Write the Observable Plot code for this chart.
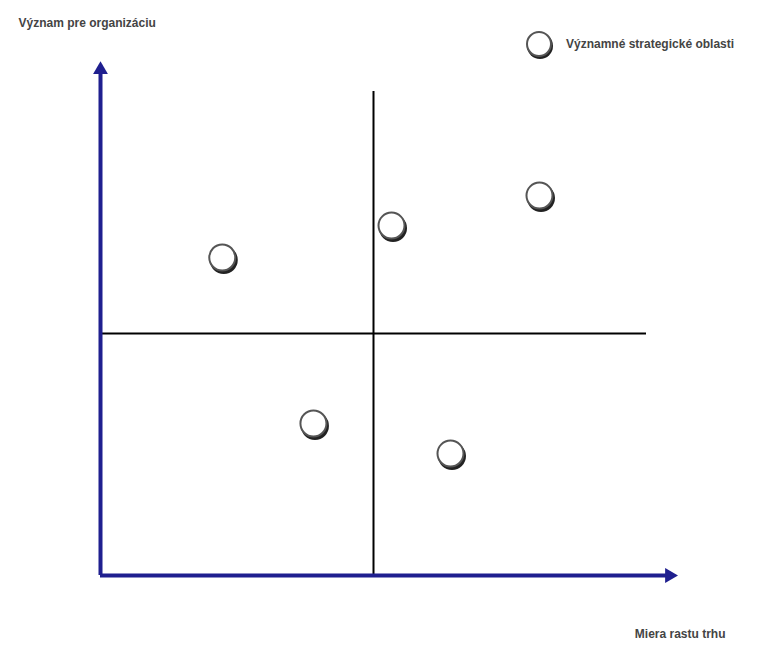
<!DOCTYPE html>
<html><head><meta charset="utf-8">
<script src="https://cdn.jsdelivr.net/npm/d3@7"></script>
<script src="https://cdn.jsdelivr.net/npm/@observablehq/plot@0.6"></script>
<style>
body{margin:0;background:#fff;font-family:"Liberation Sans",Arial,sans-serif;}
#wrap{position:relative;width:757px;height:649px;}
#legend{position:absolute;left:526px;top:31px;display:flex;align-items:center;font-size:12px;font-weight:bold;color:#444;}
#legend .sw{width:26px;height:26px;border-radius:50%;border:2px solid #555;box-shadow:1px 2px 0 #222;background:#fff;margin-right:14px;box-sizing:border-box;}
</style></head>
<body><div id="wrap"><div id="legend"><span class="sw"></span><span>Významné strategické oblasti</span></div></div>
<script>
const names = ["A","B","C","D","E"];
const xs = [2.23, 5.33, 8.04, 3.90, 6.41];
const ys = [6.57, 7.23, 7.85, 3.14, 2.52];
const yLabel = "Význam pre organizáciu";
const xLabel = "Miera rastu trhu";
const midX = 5, midY = 5;
const xHead = 10.42, yHead = 10.45;

const pts = names.map((n,i)=>({name:n,x:xs[i],y:ys[i]}));
const axisColor = "#1f1f8f";

const chart = Plot.plot({
  width: 757, height: 649,
  marginLeft: 100, marginRight: 111, marginTop: 91, marginBottom: 74,
  x: {domain: [0, 10], axis: null},
  y: {domain: [0, 10], axis: null},
  style: {fontFamily: "Liberation Sans, Arial, sans-serif"},
  marks: [
    Plot.ruleX([midX], {y1: 0, y2: 10, stroke: "#000", strokeWidth: 2}),
    Plot.ruleY([midY], {x1: 0, x2: 10, stroke: "#000", strokeWidth: 2}),
    Plot.ruleX([0], {y1: 0, y2: yHead, stroke: axisColor, strokeWidth: 4}),
    Plot.ruleY([0], {x1: 0, x2: xHead, stroke: axisColor, strokeWidth: 4}),
    Plot.dot([{x: 0, y: yHead}], {x: "x", y: "y", symbol: "triangle", r: 5.5, fill: axisColor, stroke: "none"}),
    Plot.dot([{x: xHead, y: 0}], {x: "x", y: "y", symbol: "triangle", r: 5.5, rotate: 90, fill: axisColor, stroke: "none"}),
    Plot.dot(pts, {x: "x", y: "y", r: 14, fill: "#222", dx: 1.5, dy: 2.5}),
    Plot.dot(pts, {x: "x", y: "y", r: 13, fill: "#fff", stroke: "#555", strokeWidth: 2}),
    Plot.text([yLabel], {frameAnchor: "top-left", dx: -82, dy: -73, text: d => d, textAnchor: "start", fontSize: 12, fontWeight: "bold", fill: "#444"}),
    Plot.text([xLabel], {frameAnchor: "bottom-right", dx: 79, dy: 62, text: d => d, textAnchor: "end", fontSize: 12, fontWeight: "bold", fill: "#444"})
  ]
});
document.getElementById("wrap").prepend(chart);
chart.style.position = "absolute"; chart.style.left = "0"; chart.style.top = "0";
</script></body></html>
